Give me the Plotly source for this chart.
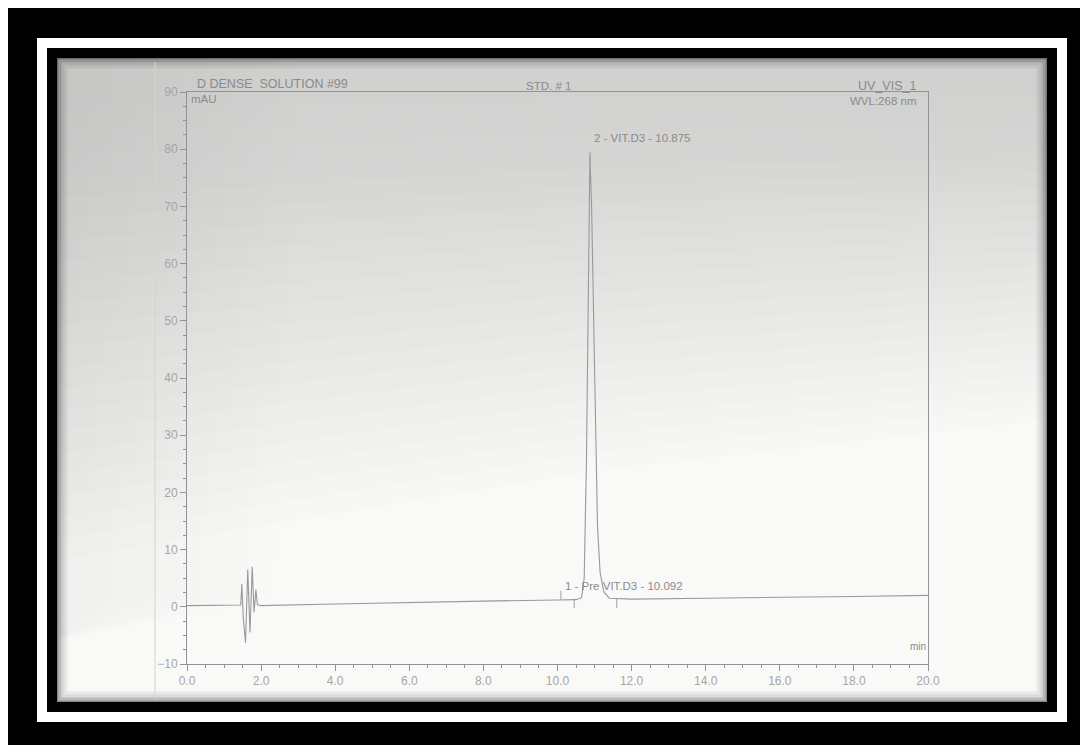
import plotly.graph_objects as go

# ---- data ----
time_min = [0.0, 1.0, 1.40, 1.45, 1.48, 1.52, 1.58, 1.64, 1.70, 1.76, 1.81, 1.86, 1.90, 2.0,
            4.0, 6.0, 8.0, 10.0, 10.5, 10.65, 10.72, 10.78, 10.83, 10.875, 10.92, 10.97,
            11.02, 11.08, 11.15, 11.25, 11.4, 12.0, 14.0, 16.0, 18.0, 20.0]
signal_mau = [0.2, 0.2, 0.2, 0.3, 4.0, -2.0, -6.3, 6.5, -4.5, 7.0, -1.0, 3.0, 0.4, 0.2,
              0.5, 0.8, 1.0, 1.2, 1.25, 1.6, 5.0, 25.0, 60.0, 79.0, 70.0, 50.0,
              30.0, 14.0, 6.0, 2.6, 1.5, 1.35, 1.5, 1.6, 1.8, 2.0]

peak_names = ["1 - Pre VIT.D3 - 10.092", "2 - VIT.D3 - 10.875"]
peak_times = [10.092, 10.875]
peak_label_y = [2.3, 80.5]
delimiter_times = [10.45, 11.6]

x_ticks = [0, 2, 4, 6, 8, 10, 12, 14, 16, 18, 20]
x_tick_labels = ["0.0", "2.0", "4.0", "6.0", "8.0", "10.0", "12.0", "14.0", "16.0", "18.0", "20.0"]
y_ticks = [-10, 0, 10, 20, 30, 40, 50, 60, 70, 80, 90]

# page has an 8px body margin -> figure is drawn 8px in from the window corner
OFF = 8
W, H = 1088 - OFF, 745 - OFF
PLOT_L, PLOT_R, PLOT_T, PLOT_B = 187, 928, 92, 664   # window pixel positions
L, T = PLOT_L - OFF, PLOT_T - OFF
R, B = W - (PLOT_R - OFF), H - (PLOT_B - OFF)
PW, PH = PLOT_R - PLOT_L, PLOT_B - PLOT_T

def px(x):
    return (x - PLOT_L) / PW

def py(y):
    return (PLOT_B - y) / PH

GREY = "#929292"
TXT = "#8a8a8a"
FONT = "Liberation Sans, Arial, sans-serif"

fig = go.Figure()

fig.add_trace(go.Scatter(x=time_min, y=signal_mau, mode="lines",
                         line=dict(color="#999999", width=1.1), showlegend=False,
                         hoverinfo="skip"))

for t in delimiter_times:
    fig.add_trace(go.Scatter(x=[t, t], y=[1.4, -0.2], mode="lines",
                             line=dict(color="#a0a0a0", width=1), showlegend=False))
fig.add_trace(go.Scatter(x=[peak_times[0], peak_times[0]], y=[1.2, 2.8], mode="lines",
                         line=dict(color="#a0a0a0", width=1), showlegend=False))
fig.add_trace(go.Scatter(x=[peak_times[1], peak_times[1]], y=[78.0, 79.6], mode="lines",
                         line=dict(color="#a0a0a0", width=1), showlegend=False))

for name, t, yv in zip(peak_names, peak_times, peak_label_y):
    fig.add_annotation(x=t, y=yv, text=name, showarrow=False, xanchor="left",
                       yanchor="bottom", xshift=2,
                       font=dict(size=11.5, color=TXT, family=FONT))

shapes = []
def rect(x0, y0, x1, y1, color, opacity=1.0):
    shapes.append(dict(type="rect", xref="paper", yref="paper",
                       x0=px(x0), x1=px(x1), y0=py(y1), y1=py(y0),
                       fillcolor=color, opacity=opacity, line=dict(width=0), layer="below"))

def poly(points, color, opacity):
    d = "M " + " L ".join(f"{px(x):.5f},{py(y):.5f}" for x, y in points) + " Z"
    shapes.append(dict(type="path", xref="paper", yref="paper", path=d,
                       fillcolor=color, opacity=opacity, line=dict(width=0), layer="below"))

# photo frame
rect(-20, -20, W + 40, H + 40, "#000000")
rect(37, 38, 1067, 722, "#ffffff")
rect(47, 48, 1057, 712, "#000000")
rect(57, 58, 1047, 702, "#f9f9f8")

# uneven lighting of the photographed sheet (darker top / left, bright bottom)
SHADE = "#bab6b1"
PX0, PX1, PY0 = 57, 1047, 58
n = 22
for k in range(n):
    f = (k + 1) / n
    yl = 90 + f * (560 - 90)
    ym = 80 + f * (470 - 80)
    yr = 80 + f * (420 - 80)
    poly([(PX0, PY0), (PX1, PY0), (PX1, yr), (600, ym), (PX0, yl)], SHADE, 0.022)
for k in range(10):
    f = (k + 1) / 10
    xr = 70 + f * (300 - 70)
    poly([(PX0, PY0), (xr, PY0), (xr - 30, 600), (PX0, 640)], SHADE, 0.016)

# vignette at the paper edges
for i, op in enumerate([0.45, 0.25, 0.12, 0.06]):
    d = i * 3
    shapes.append(dict(type="rect", xref="paper", yref="paper",
                       x0=px(57 + d), x1=px(1047 - d), y0=py(702 - d), y1=py(58 + d),
                       line=dict(color="#000000", width=3), opacity=op, layer="below"))
shapes.append(dict(type="line", xref="paper", yref="paper", x0=px(155), x1=px(155),
                   y0=py(700), y1=py(62), line=dict(color="#d6d3ce", width=1), layer="below"))

fig.update_layout(shapes=shapes)

texts = [
    ("D DENSE  SOLUTION #99", 195, 84, "left", 12.5),
    ("mAU", 189, 99, "left", 11.5),
    ("STD. # 1", 548, 86, "center", 11.5),
    ("UV_VIS_1", 918, 86, "right", 12.5),
    ("WVL:268 nm", 918, 101, "right", 11.5),
    ("min", 928, 646, "right", 10),
]
for txt, x, y, anc, sz in texts:
    fig.add_annotation(xref="paper", yref="paper", x=px(x), y=py(y), text=txt,
                       showarrow=False, xanchor=anc, yanchor="middle",
                       font=dict(size=sz, color=TXT, family=FONT))

fig.update_xaxes(range=[0, 20], tickvals=x_ticks, ticktext=x_tick_labels,
                 showline=True, linecolor=GREY, linewidth=1, mirror=True,
                 ticks="outside", ticklen=6, tickcolor=GREY, showgrid=False, zeroline=False,
                 tickfont=dict(size=12, color="#a6a6a6", family=FONT),
                 minor=dict(dtick=0.5, ticks="outside", ticklen=3, tickcolor=GREY))
fig.update_yaxes(range=[-10, 90], tickvals=y_ticks,
                 showline=True, linecolor=GREY, linewidth=1, mirror=True,
                 ticks="outside", ticklen=6, tickcolor=GREY, showgrid=False, zeroline=False,
                 tickfont=dict(size=12, color="#a6a6a6", family=FONT),
                 minor=dict(dtick=2.5, ticks="outside", ticklen=3, tickcolor=GREY))

fig.update_layout(width=W, height=H, margin=dict(l=L, r=R, t=T, b=B, pad=0),
                  paper_bgcolor="#ffffff", plot_bgcolor="rgba(0,0,0,0)",
                  showlegend=False)

fig.write_html("out.html")
